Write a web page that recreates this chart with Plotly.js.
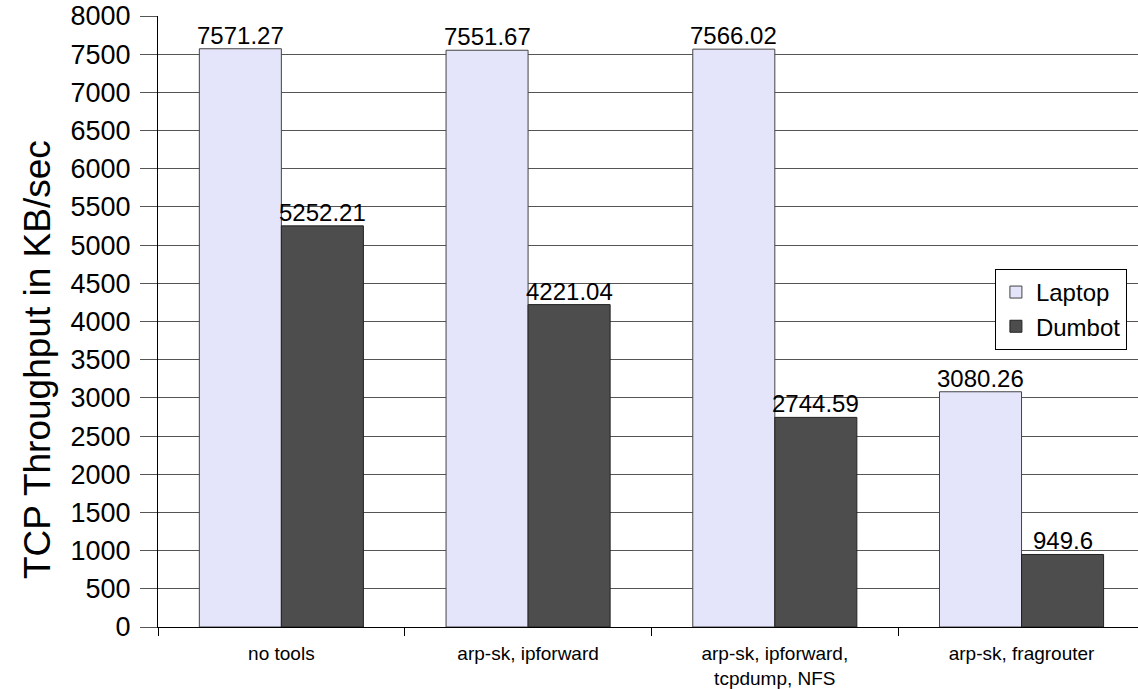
<!DOCTYPE html>
<html>
<head>
<meta charset="utf-8">
<script src="https://cdn.plot.ly/plotly-3.0.1.min.js"></script>
<style>html,body{margin:0;padding:0;background:#fff;}#chart{width:1138px;height:689px;}</style>
</head>
<body>
<div id="chart"></div>
<script>
const categories = ["no tools", "arp-sk, ipforward", "arp-sk, ipforward,<br>tcpdump, NFS", "arp-sk, fragrouter"];
const laptop = [7571.27, 7551.67, 7566.02, 3080.26];
const dumbot = [5252.21, 4221.04, 2744.59, 949.6];
const yTicks = [0,500,1000,1500,2000,2500,3000,3500,4000,4500,5000,5500,6000,6500,7000,7500,8000];
const yTitle = 'TCP Throughput in KB/sec';

const fontFam = '"Liberation Sans", Arial, sans-serif';
const traces = [
  {type:'bar', name:'Laptop', x:categories, y:laptop,
   marker:{color:'#E4E4FA', line:{color:'#444', width:1}}},
  {type:'bar', name:'Dumbot', x:categories, y:dumbot,
   marker:{color:'#4D4D4D', line:{color:'#222', width:1}}}
];
const labelAnn = (vals, shift) => vals.map((v, i) => ({
  x: categories[i], y: v, xref:'x', yref:'y', text: String(v), showarrow:false,
  xanchor:'center', yanchor:'bottom', xshift: shift, yshift: -2,
  font:{size:24, color:'#000', family:fontFam}
}));
const annotations = labelAnn(laptop, -41).concat(labelAnn(dumbot, 41));
annotations.push({text: yTitle, xref:'paper', yref:'paper', x:(38-158)/980, y:(627-360)/611,
  xanchor:'center', yanchor:'middle', textangle:-90, showarrow:false,
  font:{size:37, family:fontFam, color:'#000'}});

const layout = {
  width:1138, height:689,
  margin:{l:158, r:0, t:16, b:62},
  paper_bgcolor:'#fff', plot_bgcolor:'#fff',
  font:{family:fontFam, color:'#000'},
  barmode:'group', bargap:0.335, bargroupgap:0,
  showlegend:true,
  legend:{x:0.854, y:0.586, xanchor:'left', yanchor:'top', bgcolor:'#fff', bordercolor:'#000', borderwidth:1,
          font:{size:24, family:fontFam}, tracegroupgap:0},
  annotations: annotations,
  xaxis:{range:[-0.5, 3.472], showline:true, linecolor:'#000', linewidth:1, ticks:'outside', tickson:'boundaries',
         ticklen:8, tickcolor:'#000', tickfont:{size:19, family:fontFam}, ticklabelstandoff:9, showgrid:false, fixedrange:true},
  yaxis:{range:[0,8000], tickvals:yTicks, ticktext:yTicks.map(String), showline:true, linecolor:'#000', linewidth:1,
         ticks:'outside', ticklen:17, tickcolor:'#555', gridcolor:'#555', gridwidth:1, zeroline:true, zerolinecolor:'#000',
         tickfont:{size:27, family:fontFam}, ticklabelstandoff:4}
};
Plotly.newPlot('chart', traces, layout, {displayModeBar:false, staticPlot:true});
</script>
</body>
</html>
